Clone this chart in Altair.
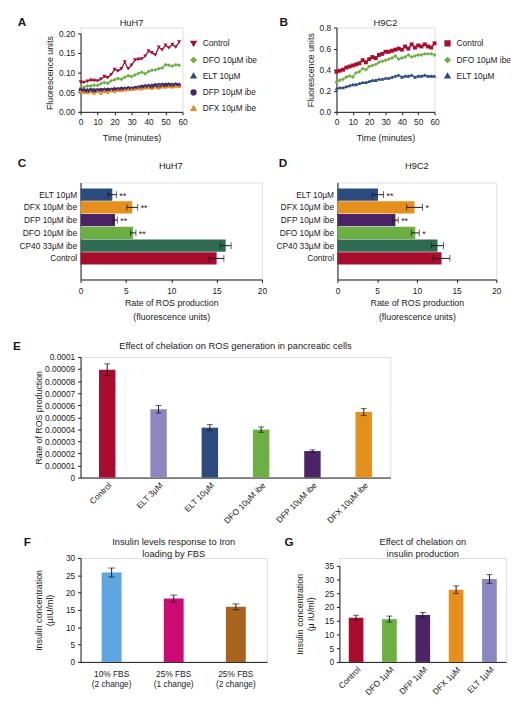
import altair as alt
import pandas as pd

FONT = "Liberation Sans"
INK = "#1a1a1a"

RED = "#a80d2e"
GREEN = "#6cb043"
NAVY = "#2c4b7f"
PURPLE = "#4b2467"
ORANGE = "#e58f1d"
DKGREEN = "#2e6b51"
LAVENDER = "#8c87c1"
SKY = "#5ea6df"
MAGENTA = "#cc0b77"
BROWN = "#a8641c"

# ---------------- Panel A (HuH7 kinetics) ----------------
A_time = [0, 2, 4, 6, 8, 10, 12, 14, 16, 18, 20, 22, 24, 26, 28,
          30, 32, 34, 36, 38, 40, 42, 44, 46, 48, 50, 52, 54, 56, 58]
A_series = ["Control", "DFO 10µM ibe", "ELT 10µM", "DFP 10µM ibe", "DFX 10µM ibe"]
A_colors = [RED, GREEN, NAVY, PURPLE, ORANGE]
A_shapes = ["triangle-down", "diamond", "triangle-up", "circle", "triangle-up"]
A_control = [0.076, 0.075, 0.078, 0.081, 0.080, 0.079, 0.083, 0.090, 0.087, 0.095,
             0.108, 0.104, 0.110, 0.127, 0.110, 0.119, 0.132, 0.134, 0.135, 0.142,
             0.155, 0.151, 0.145, 0.165, 0.158, 0.170, 0.163, 0.172, 0.165, 0.178]
A_dfo = [0.060, 0.063, 0.066, 0.066, 0.068, 0.067, 0.072, 0.075, 0.073, 0.079,
         0.082, 0.085, 0.083, 0.088, 0.092, 0.090, 0.094, 0.098, 0.101, 0.097,
         0.103, 0.106, 0.107, 0.110, 0.112, 0.120, 0.119, 0.117, 0.120, 0.119]
A_elt = [0.058, 0.058, 0.057, 0.058, 0.058, 0.057, 0.058, 0.059, 0.058, 0.059,
         0.060, 0.060, 0.061, 0.061, 0.062, 0.062, 0.063, 0.064, 0.066, 0.068,
         0.067, 0.069, 0.070, 0.071, 0.071, 0.072, 0.072, 0.071, 0.072, 0.071]
A_dfp = [0.056, 0.054, 0.052, 0.055, 0.053, 0.055, 0.056, 0.054, 0.057, 0.055,
         0.058, 0.057, 0.059, 0.058, 0.060, 0.059, 0.061, 0.062, 0.064, 0.063,
         0.066, 0.063, 0.068, 0.062, 0.067, 0.066, 0.069, 0.065, 0.070, 0.068]
A_dfx = [0.052, 0.050, 0.049, 0.051, 0.048, 0.052, 0.047, 0.053, 0.050, 0.054,
         0.052, 0.055, 0.054, 0.056, 0.057, 0.058, 0.058, 0.060, 0.059, 0.061,
         0.062, 0.060, 0.063, 0.062, 0.064, 0.063, 0.065, 0.064, 0.066, 0.065]
A_xticks = [0, 10, 20, 30, 40, 50, 60]
A_yticks = [0, 0.05, 0.10, 0.15, 0.20]

# ---------------- Panel B (H9C2 kinetics) ----------------
B_time = [0, 2, 4, 6, 8, 10, 12, 14, 16, 18, 20, 22, 24, 26, 28, 30,
          32, 34, 36, 38, 40, 42, 44, 46, 48, 50, 52, 54, 56, 58, 60]
B_series = ["Control", "DFO 10µM ibe", "ELT 10µM"]
B_colors = [RED, GREEN, NAVY]
B_shapes = ["square", "diamond", "triangle-up"]
B_control = [0.38, 0.39, 0.40, 0.42, 0.43, 0.44, 0.45, 0.46, 0.49, 0.47, 0.50,
             0.52, 0.51, 0.54, 0.55, 0.57, 0.57, 0.58, 0.59, 0.60, 0.59, 0.62,
             0.60, 0.64, 0.61, 0.63, 0.62, 0.64, 0.62, 0.61, 0.65]
B_dfo = [0.28, 0.30, 0.31, 0.33, 0.34, 0.33, 0.37, 0.38, 0.41, 0.40, 0.43,
         0.44, 0.45, 0.47, 0.48, 0.49, 0.50, 0.51, 0.53, 0.50, 0.51, 0.52,
         0.54, 0.52, 0.53, 0.54, 0.54, 0.55, 0.55, 0.55, 0.54]
B_elt = [0.22, 0.23, 0.23, 0.24, 0.25, 0.26, 0.26, 0.27, 0.28, 0.28, 0.29,
         0.30, 0.30, 0.31, 0.31, 0.32, 0.32, 0.33, 0.34, 0.35, 0.33, 0.34,
         0.34, 0.35, 0.33, 0.34, 0.34, 0.35, 0.34, 0.34, 0.34]
B_yticks = [0, 0.2, 0.4, 0.6, 0.8]

# ---------------- Panels C / D (ROS rate bars) ----------------
CD_cats = ["ELT 10µM", "DFX 10µM ibe", "DFP 10µM ibe", "DFO 10µM ibe", "CP40 33µM ibe", "Control"]
CD_colors = [NAVY, ORANGE, PURPLE, GREEN, DKGREEN, RED]
C_vals = [3.5, 5.7, 3.8, 5.8, 16.0, 15.0]
C_errs = [0.45, 0.6, 0.25, 0.3, 0.6, 0.8]
C_stars = ["**", "**", "**", "**", "", ""]
D_vals = [5.1, 9.7, 7.3, 9.8, 12.6, 13.1]
D_errs = [0.7, 1.0, 0.35, 0.5, 0.75, 1.05]
D_stars = ["**", "*", "**", "*", "", ""]
CD_xticks = [0, 5, 10, 15, 20]

# ---------------- Panel E (pancreatic ROS) ----------------
E_cats = ["Control", "ELT 3µM", "ELT 10µM", "DFO 10µM ibe", "DFP 10µM ibe", "DFX 10µM ibe"]
E_colors = [RED, LAVENDER, NAVY, GREEN, PURPLE, ORANGE]
E_vals = [0.0000895, 0.0000567, 0.0000414, 0.0000398, 0.0000220, 0.0000543]
E_errs = [0.0000048, 0.0000031, 0.0000025, 0.0000022, 0.0000010, 0.0000029]
E_yticks = [0, 0.00001, 0.00002, 0.00003, 0.00004, 0.00005,
            0.00006, 0.00007, 0.00008, 0.00009, 0.0001]

# ---------------- Panel F (insulin vs FBS) ----------------
F_cats = ["10% FBS\n(2 change)", "25% FBS\n(1 change)", "25% FBS\n(2 change)"]
F_colors = [SKY, MAGENTA, BROWN]
F_vals = [25.8, 18.3, 15.9]
F_errs = [1.3, 1.0, 0.85]
F_yticks = [0, 5, 10, 15, 20, 25, 30]

# ---------------- Panel G (insulin vs chelators) ----------------
G_cats = ["Control", "DFO 1µM", "DFP 1µM", "DFX 1µM", "ELT 1µM"]
G_colors = [RED, GREEN, PURPLE, ORANGE, LAVENDER]
G_vals = [16.1, 15.6, 17.1, 26.3, 30.2]
G_errs = [0.9, 1.1, 0.9, 1.4, 1.6]
G_yticks = [0, 5, 10, 15, 20, 25, 30, 35]


def ax(**kw):
    base = dict(grid=False, domainColor=INK, tickColor=INK, labelColor=INK,
                titleColor=INK, labelFont=FONT, titleFont=FONT, labelFontSize=8.5,
                titleFontSize=9, titleFontWeight="normal", domainWidth=1,
                tickWidth=1, labelOverlap=False, labelFlush=False)
    base.update(kw)
    return alt.Axis(**base)


def labels(letter, lx, ly, title, tx, ty, lh=12):
    d = pd.DataFrame({"k": [0]})
    L = alt.Chart(d).mark_text(text=letter, font=FONT, fontSize=12, fontWeight="bold",
                               align="left", baseline="alphabetic", color=INK
                               ).encode(x=alt.value(lx), y=alt.value(ly))
    T = alt.Chart(d).mark_text(text=title, font=FONT, fontSize=9.5, align="center",
                               baseline="alphabetic", lineHeight=lh, color=INK
                               ).encode(x=alt.value(tx), y=alt.value(ty))
    return [L, T]


def long_df(time, names, series):
    rows = []
    for n, vals in zip(names, series):
        for t, v in zip(time, vals):
            rows.append({"series": n, "t": t, "v": v})
    return pd.DataFrame(rows)


def line_panel(df, names, colors, shapes, ydom, yticks, yfmt, w, h, yrange,
               legend_xy, letter, lpos, title, tpos):
    leg = alt.Legend(title=None, orient="none", legendX=legend_xy[0], legendY=legend_xy[1],
                     labelFont=FONT, labelFontSize=8.5, labelColor=INK, symbolSize=24,
                     rowPadding=5, labelOffset=5, padding=0)
    color = alt.Color("series:N", scale=alt.Scale(domain=names, range=colors), legend=leg)
    shape = alt.Shape("series:N", scale=alt.Scale(domain=names, range=shapes), legend=leg)
    x = alt.X("t:Q", scale=alt.Scale(domain=[0, 60], nice=False),
              axis=ax(values=A_xticks, title="Time (minutes)", tickSize=3,
                      labelPadding=3, titlePadding=8))
    yscale = dict(domain=ydom, nice=False)
    if yrange is not None:
        yscale["range"] = yrange
    y = alt.Y("v:Q", scale=alt.Scale(**yscale),
              axis=ax(values=yticks, format=yfmt, title="Fluorescence units",
                      tickSize=3, labelPadding=3, titlePadding=4))
    lines = alt.Chart(df).mark_line(strokeWidth=1.3).encode(x=x, y=y, color=color, detail="series:N")
    pts = alt.Chart(df).mark_point(filled=True, size=16, opacity=1).encode(
        x=x, y=y, color=color, shape=shape)
    return alt.layer(lines, pts, *labels(letter, lpos[0], lpos[1], title, tpos[0], tpos[1])
                     ).properties(width=w, height=h)


def hbar_panel(vals, errs, stars, w, h, letter, lpos, title, tpos):
    df = pd.DataFrame({"cat": CD_cats, "val": vals, "err": errs, "star": stars})
    base = alt.Chart(df).transform_calculate(lo="datum.val - datum.err", hi="datum.val + datum.err")
    Y = alt.Y("cat:N", sort=CD_cats,
              scale=alt.Scale(paddingInner=0.05, paddingOuter=0.83, align=0.29),
              axis=ax(title=None, ticks=False, labelPadding=4))
    xs = alt.Scale(domain=[0, 20], nice=False)
    xa = ax(values=CD_xticks, title=["Rate of ROS production", "(fluorescence units)"],
            tickSize=3, labelPadding=4, titlePadding=4, titleLineHeight=14)
    bars = base.mark_bar().encode(
        y=Y, x=alt.X("val:Q", scale=xs, axis=xa),
        color=alt.Color("cat:N", scale=alt.Scale(domain=CD_cats, range=CD_colors), legend=None))
    rule = base.mark_rule(color=INK, strokeWidth=1).encode(
        y=Y, x=alt.X("lo:Q", scale=xs, axis=xa), x2="hi:Q")
    tlo = base.mark_tick(color=INK, thickness=1, size=7).encode(y=Y, x=alt.X("lo:Q", scale=xs, axis=xa))
    thi = base.mark_tick(color=INK, thickness=1, size=7).encode(y=Y, x=alt.X("hi:Q", scale=xs, axis=xa))
    st = base.mark_text(align="left", baseline="middle", dx=3, dy=1, font=FONT,
                        fontSize=9, color=INK).encode(
        y=Y, x=alt.X("hi:Q", scale=xs, axis=xa), text="star:N")
    return alt.layer(bars, rule, tlo, thi, st,
                     *labels(letter, lpos[0], lpos[1], title, tpos[0], tpos[1])
                     ).properties(width=w, height=h)


def vbar_panel(cats, colors, vals, errs, w, h, ydom, yticks, yfmt, ytitle, yrange,
               pi, po, cap, xaxis, letter, lpos, title, tpos, ytitle_pad=4):
    df = pd.DataFrame({"cat": cats, "val": vals, "err": errs})
    base = alt.Chart(df).transform_calculate(lo="datum.val - datum.err", hi="datum.val + datum.err")
    X = alt.X("cat:N", sort=cats, scale=alt.Scale(paddingInner=pi, paddingOuter=po), axis=xaxis)
    ys = dict(domain=ydom, nice=False)
    if yrange is not None:
        ys["range"] = yrange
    ys = alt.Scale(**ys)
    ya = ax(values=yticks, format=yfmt, title=ytitle, tickSize=3, labelPadding=3,
            titlePadding=ytitle_pad, titleLineHeight=11)
    bars = base.mark_bar().encode(
        x=X, y=alt.Y("val:Q", scale=ys, axis=ya),
        color=alt.Color("cat:N", scale=alt.Scale(domain=cats, range=colors), legend=None))
    rule = base.mark_rule(color=INK, strokeWidth=1).encode(
        x=X, y=alt.Y("lo:Q", scale=ys, axis=ya), y2="hi:Q")
    tlo = base.mark_tick(color=INK, thickness=1, size=cap).encode(x=X, y=alt.Y("lo:Q", scale=ys, axis=ya))
    thi = base.mark_tick(color=INK, thickness=1, size=cap).encode(x=X, y=alt.Y("hi:Q", scale=ys, axis=ya))
    return alt.layer(bars, rule, tlo, thi,
                     *labels(letter, lpos[0], lpos[1], title, tpos[0], tpos[1])
                     ).properties(width=w, height=h)


# ---- build panels ----
A = line_panel(long_df(A_time, A_series, [A_control, A_dfo, A_elt, A_dfp, A_dfx]),
               A_series, A_colors, A_shapes, [0, 0.2], A_yticks, ".2f", 104, 86, [86, 6],
               (111, 12), "A", (-64, -2), "HuH7", (52, -2))
B = line_panel(long_df(B_time, B_series, [B_control, B_dfo, B_elt]),
               B_series, B_colors, B_shapes, [0, 0.8], B_yticks, ".1f", 100, 86, None,
               (109, 12), "B", (-58, -2), "H9C2", (50, -2))
C = hbar_panel(C_vals, C_errs, C_stars, 185, 99, "C", (-64, -16), "HuH7", (92, -14))
D = hbar_panel(D_vals, D_errs, D_stars, 162, 99, "D", (-60, -16), "H9C2", (81, -14))
E = vbar_panel(E_cats, E_colors, E_vals, E_errs, 316, 123, [0, 0.0001], E_yticks, ".5~f",
               "Rate of ROS production", None, 0.68, 0.36, 6,
               ax(title=None, ticks=False, labelAngle=-45, labelPadding=3),
               "E", (-69, -7), "Effect of chelation on ROS generation in pancreatic cells",
               (158, -8), ytitle_pad=1)
F = vbar_panel(F_cats, F_colors, F_vals, F_errs, 190, 106, [0, 30], F_yticks, "d",
               ["Insulin concentration", "(µIU/ml)"], None, 0.68, 0.34, 7,
               ax(title=None, ticks=False, labelAngle=0, labelPadding=8, labelLineHeight=10,
                  labelExpr="split(datum.label, '\\n')"),
               "F", (-58, -12), ["Insulin levels response to Iron", "loading by FBS"],
               (95, -13), ytitle_pad=11)
G = vbar_panel(G_cats, G_colors, G_vals, G_errs, 170, 106, [0, 35], G_yticks, "d",
               ["Insulin concentration", "(μ IU/ml)"], [106, 8], 0.56, 0.28, 6,
               ax(title=None, ticks=False, labelAngle=-45, labelPadding=3),
               "G", (-56, -12), ["Effect of chelation on", "insulin production"],
               (85, -13), ytitle_pad=9)

IND = dict(color="independent", shape="independent")

row1 = alt.hconcat(A, B, spacing=157, bounds="flush").resolve_scale(**IND)
row2 = alt.hconcat(C, D, spacing=77, bounds="flush").resolve_scale(**IND)
row4 = alt.hconcat(F, G, spacing=74, bounds="flush").resolve_scale(**IND)

top = alt.vconcat(row1, row2, spacing=13).resolve_scale(**IND)
bottom = alt.vconcat(E, row4, spacing=10).resolve_scale(**IND)

chart = alt.vconcat(top, bottom, spacing=18).resolve_scale(**IND).properties(
    padding={"left": 4, "top": 0, "right": 0, "bottom": 0}
).configure_view(stroke=None).configure(font=FONT)

chart.save("out.html", embed_options={"renderer": "svg", "actions": False})
